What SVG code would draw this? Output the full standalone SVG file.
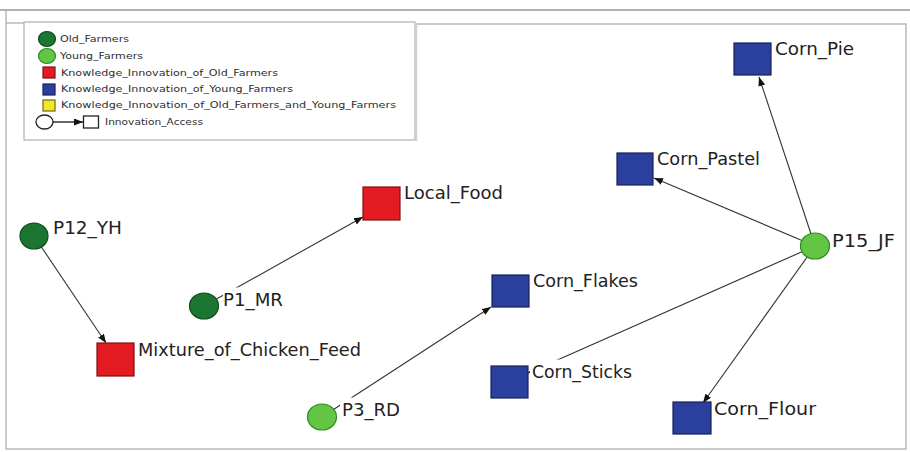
<svg xmlns="http://www.w3.org/2000/svg" width="910" height="452" viewBox="0 0 910 452">
  <style>
    .frame { fill: none; stroke: #b9b9b9; }
    .old { fill: #1c7530; stroke: #0e4a1c; stroke-width: 1.2; }
    .young { fill: #62c543; stroke: #2f8a25; stroke-width: 1.2; }
    .kold { fill: #e41b23; stroke: #7d1212; stroke-width: 1.2; }
    .kyoung { fill: #2b3f9d; stroke: #17205e; stroke-width: 1.2; }
    .kboth { fill: #f3e62b; stroke: #6d6a12; stroke-width: 1.2; }
    .hollow { fill: #ffffff; stroke: #222; stroke-width: 1.3; }
    .lbl { font-family: "DejaVu Sans", Verdana, sans-serif; font-size: 17px; fill: #222; }
    .leg { font-family: "DejaVu Sans", Verdana, sans-serif; font-size: 9.3px; fill: #2e2e2e; }
    .bg { fill: #ffffff; }
    .edge { stroke: #333; stroke-width: 1.1; fill: none; marker-end: url(#arrow); }
  </style>
  <defs>
    <marker id="arrow" markerUnits="userSpaceOnUse" markerWidth="10" markerHeight="8" refX="9" refY="3.5" orient="auto">
      <path d="M0,0 L9,3.5 L0,7 z" fill="#111"/>
    </marker>
  </defs>

  <!-- page background and frames -->
  <rect x="0" y="0" width="910" height="452" fill="#ffffff"/>
  <line x1="0" y1="10" x2="910" y2="10" stroke="#b3b3b3" stroke-width="2"/>
  <path class="frame" stroke-width="1.5" d="M6,11 V449 H906 V24 H417 M6,23 H24"/>

  <!-- legend -->
  <g id="legend">
    <rect x="24" y="22" width="391" height="118" fill="#ffffff" stroke="#b5b5b5" stroke-width="1.3"/>
    <line x1="416.5" y1="23" x2="416.5" y2="141" stroke="#d0d0d0" stroke-width="1.5"/>
    <ellipse class="old" cx="47" cy="39" rx="8.5" ry="7.5"/>
    <text class="leg" x="60" y="42" textLength="69" lengthAdjust="spacingAndGlyphs">Old_Farmers</text>
    <ellipse class="young" cx="47" cy="56" rx="8.5" ry="7.5"/>
    <text class="leg" x="60" y="59" textLength="83" lengthAdjust="spacingAndGlyphs">Young_Farmers</text>
    <rect class="kold" x="43" y="67" width="12" height="11"/>
    <text class="leg" x="61" y="76" textLength="217" lengthAdjust="spacingAndGlyphs">Knowledge_Innovation_of_Old_Farmers</text>
    <rect class="kyoung" x="43" y="84" width="12" height="11"/>
    <text class="leg" x="61" y="92" textLength="232" lengthAdjust="spacingAndGlyphs">Knowledge_Innovation_of_Young_Farmers</text>
    <rect class="kboth" x="43" y="100" width="12" height="11"/>
    <text class="leg" x="61" y="108" textLength="335" lengthAdjust="spacingAndGlyphs">Knowledge_Innovation_of_Old_Farmers_and_Young_Farmers</text>
    <ellipse class="hollow" cx="44.5" cy="122" rx="8.5" ry="7"/>
    <line x1="53" y1="122" x2="83" y2="122" stroke="#111" stroke-width="1.3" marker-end="url(#arrow)"/>
    <rect class="hollow" x="83.5" y="116" width="15" height="12"/>
    <text class="leg" x="105" y="125" textLength="98" lengthAdjust="spacingAndGlyphs">Innovation_Access</text>
  </g>

  <!-- connectors -->
  <g id="connectors">
    <line class="edge" x1="34" y1="236" x2="106" y2="343"/>
    <line class="edge" x1="204" y1="306" x2="363" y2="217"/>
    <line class="edge" x1="322" y1="417" x2="491" y2="307"/>
    <line class="edge" x1="815" y1="246" x2="759" y2="77"/>
    <line class="edge" x1="815" y1="246" x2="654" y2="178"/>
    <line class="edge" x1="815" y1="246" x2="528" y2="373"/>
    <line class="edge" x1="815" y1="246" x2="703" y2="403"/>
  </g>

  <!-- nodes -->
  <g id="P12_YH">
    <ellipse class="old" cx="34" cy="236" rx="14" ry="13"/>
    <text class="lbl" x="53" y="234" textLength="69" lengthAdjust="spacingAndGlyphs">P12_YH</text>
  </g>
  <g id="Mixture_of_Chicken_Feed">
    <rect class="kold" x="97" y="343" width="37" height="33"/>
    <text class="lbl" x="138" y="356" textLength="223" lengthAdjust="spacingAndGlyphs">Mixture_of_Chicken_Feed</text>
  </g>
  <g id="P1_MR">
    <ellipse class="old" cx="204" cy="306" rx="14.5" ry="13"/>
    <rect class="bg" x="223" y="287.5" width="62" height="23"/>
    <text class="lbl" x="223" y="306" textLength="60" lengthAdjust="spacingAndGlyphs">P1_MR</text>
  </g>
  <g id="Local_Food">
    <rect class="kold" x="363" y="187" width="37" height="33"/>
    <text class="lbl" x="404" y="199" textLength="99" lengthAdjust="spacingAndGlyphs">Local_Food</text>
  </g>
  <g id="P3_RD">
    <ellipse class="young" cx="322" cy="417" rx="14.5" ry="13"/>
    <rect class="bg" x="340" y="397.5" width="62" height="23"/>
    <text class="lbl" x="342" y="416" textLength="58" lengthAdjust="spacingAndGlyphs">P3_RD</text>
  </g>
  <g id="Corn_Flakes">
    <rect class="kyoung" x="492" y="275" width="37" height="32"/>
    <text class="lbl" x="533" y="287" textLength="105" lengthAdjust="spacingAndGlyphs">Corn_Flakes</text>
  </g>
  <g id="Corn_Sticks">
    <rect class="kyoung" x="491" y="366" width="37" height="32"/>
    <rect class="bg" x="530" y="359.5" width="104" height="23"/>
    <text class="lbl" x="532" y="378" textLength="100" lengthAdjust="spacingAndGlyphs">Corn_Sticks</text>
  </g>
  <g id="Corn_Flour">
    <rect class="kyoung" x="673" y="402" width="38" height="32"/>
    <text class="lbl" x="714" y="415" textLength="102" lengthAdjust="spacingAndGlyphs">Corn_Flour</text>
  </g>
  <g id="P15_JF">
    <ellipse class="young" cx="815" cy="246" rx="14.5" ry="13"/>
    <text class="lbl" x="832" y="247" textLength="63" lengthAdjust="spacingAndGlyphs">P15_JF</text>
  </g>
  <g id="Corn_Pie">
    <rect class="kyoung" x="734" y="43" width="37" height="32"/>
    <text class="lbl" x="775" y="55" textLength="79" lengthAdjust="spacingAndGlyphs">Corn_Pie</text>
  </g>
  <g id="Corn_Pastel">
    <rect class="kyoung" x="617" y="153" width="36" height="32"/>
    <text class="lbl" x="657" y="165" textLength="103" lengthAdjust="spacingAndGlyphs">Corn_Pastel</text>
  </g>
</svg>
